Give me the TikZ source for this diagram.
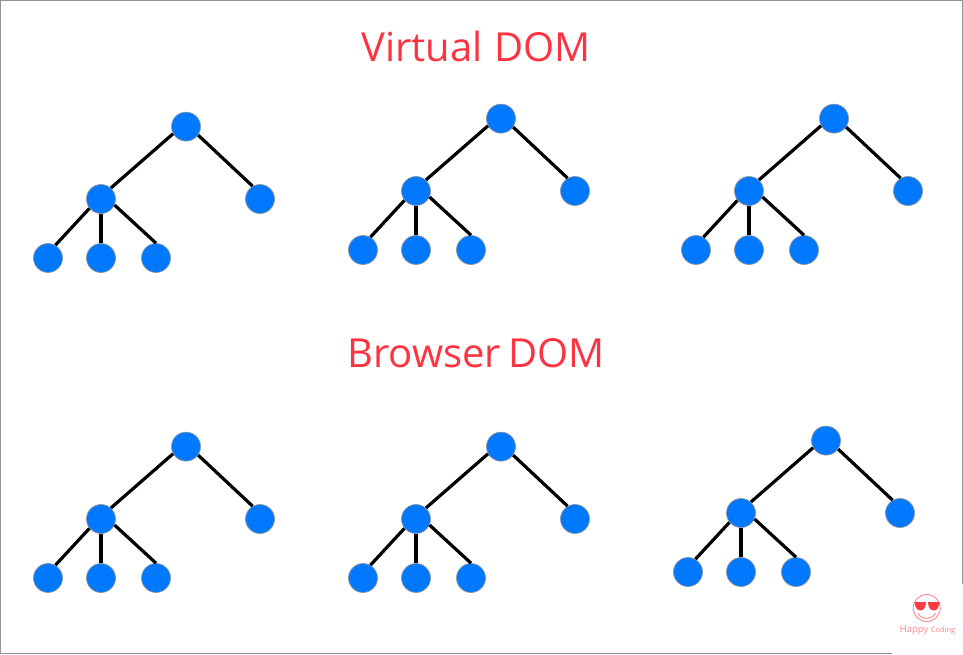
\documentclass[tikz,border=0pt]{standalone}
\usepackage{fontspec}
\setmainfont{Open Sans}
\usetikzlibrary{positioning}
\definecolor{domblue}{HTML}{0079FE}
\definecolor{domrim}{HTML}{8F959B}
\definecolor{titlered}{HTML}{FC3340}
\definecolor{logored}{HTML}{FB3A44}
\definecolor{logopink}{HTML}{F98A8F}

\begin{document}
\begin{tikzpicture}[
    x=1pt, y=-1pt,
    % Styles
    dom/.style={% For the tree nodes
        circle,
        draw=domrim,
        line width=0.7pt,
        fill=domblue,
        minimum size=29pt,
        inner sep=0pt,
        },
    edge/.style={% For the tree connectors
        line width=3.2pt,
        black,
        },
    heading/.style={% For the two titles
        font=\fontsize{40pt}{42pt}\selectfont,
        text=titlered,
        inner sep=0pt,
        },
    ]

    % Frame and the white patch of the logo
    \useasboundingbox (0,0) rectangle (963,654);
    \draw [gray!85, line width=1pt] (0.5,0.5) rectangle (962.5,653.5);
    \fill [white] (892,584) rectangle (963,654);

    % Draw the titles
    \node [heading] (virtual) at (476,46) {Virtual\hspace{1pt} DOM};
    \node [heading] (browser) at (476,353) {Browser\hspace{-3pt} DOM};

    % Draw the trees, one root position each
    \foreach \t/\x/\y in {1/186/126, 2/501/118, 3/834/118, 4/186/446, 5/501/446, 6/826/440} {
        \begin{scope}[shift={(\x,\y)}]
            \node [dom] (root\t) at (0,0.6) {};
            \node [dom] (mid\t) at (-85,73) {};
            \node [dom] (right\t) at (74,73) {};
            \node [dom] (leafa\t) at (-138,132) {};
            \node [dom] (leafb\t) at (-85,132) {};
            \node [dom] (leafc\t) at (-30,132) {};
            \draw [edge] (root\t.209) -- (mid\t.48);
            \draw [edge] (root\t.-35) -- (right\t.120);
            \draw [edge] (mid\t.219) -- (leafa\t.60);
            \draw [edge] (mid\t.south) -- (leafb\t.north);
            \draw [edge] (mid\t.-24) -- (leafc\t.north);
        \end{scope}
    }

    % Draw the logo
    \node [circle, draw=logopink, line width=0.9pt, minimum size=27pt, inner sep=0pt] (face) at (926.7,608) {};
    \fill [logored] (914.5,602) -- (926,602) -- (925.5,606) .. controls (924,612) and (917,612) .. (915.5,606.5) -- cycle;
    \fill [logored] (928,602) -- (939.5,602) -- (938.5,606.5) .. controls (937,612) and (930,612) .. (928.5,606) -- cycle;
    \draw [logopink, line width=0.9pt] (918,613.5) .. controls (922,620) and (931,620) .. (935.5,613.5);
    \node [text=logopink, inner sep=0pt] (brand) at (927.5,630) {\fontsize{9.5pt}{10pt}\selectfont Happy \fontsize{7.5pt}{10pt}\selectfont Coding};
\end{tikzpicture}
\end{document}
